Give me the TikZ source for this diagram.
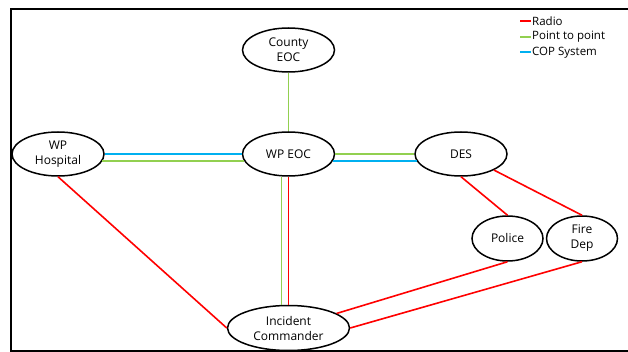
\documentclass[tikz,border=0pt]{standalone}
\usepackage{fontspec}
\setmainfont{Open Sans}
\usetikzlibrary{shapes.geometric}

\definecolor{radiored}{HTML}{FF0000}
\definecolor{ptpgreen}{HTML}{92D050}
\definecolor{copblue}{HTML}{00B0F0}

\begin{document}
\begin{tikzpicture}[x = 1pt, y = -1pt,
		site/.style = {ellipse, draw, line width = 1.5pt, fill = white, inner sep = 0pt,
			align = center, minimum width = 92pt, minimum height = 44pt,
			font = \fontsize{12}{15}\selectfont},
		small site/.style = {site, minimum width = 71pt, minimum height = 45pt},
		link/.style = {line width = 1.6pt}]
			\def\linkgap{7};

			\useasboundingbox (0,0) rectangle (628,352);
			\draw [line width = 2pt] (628,9) -- (11,9) -- (11,351) -- (628,351);

			% sites
			\node [site] (county) at (288.5,50) {County\\EOC};
			\node [site] (wpeoc) at (288.5,154) {WP EOC};
			\node [site] (hosp) at (58,154) {WP\\Hospital};
			\node [site] (des) at (461,154) {DES};
			\node [small site] (police) at (507.5,238.5) {Police};
			\node [small site] (fire) at (582,238.5) {Fire\\Dep};
			\node [site, minimum width = 122pt, minimum height = 45pt] (ic) at (288.5,328) {Incident\\Commander};

			% links
			\begin{scope}[link]
				\draw [ptpgreen] (county) -- (wpeoc);
				\draw [copblue] (hosp.east) -- (wpeoc.west);
				\draw [ptpgreen] (hosp.-9) -- (wpeoc.189);
				\draw [ptpgreen] (wpeoc.east) -- (des.west);
				\draw [copblue] (wpeoc.-9) -- (des.189);
				\draw [ptpgreen] ([xshift = -\linkgap pt]wpeoc.south) -- ([xshift = -\linkgap pt]ic.north);
			\end{scope}

			\begin{scope}[link, radiored]
				\draw (wpeoc) -- (ic);
				\draw (hosp.south) -- (ic.west);
				\draw (des.south) -- (police.north);
				\draw (des.-26) -- (fire.north);
				\draw (police.south) -- (ic);
				\draw (fire.south) -- (ic.east);
			\end{scope}

			% legend
			\foreach \name/\col/\yy in {Radio/radiored/21.5, Point to point/ptpgreen/37, COP System/copblue/52.5} {
				\coordinate (dash\col) at (520,\yy);
				\node [right, inner sep = 1pt, font = \fontsize{11.5}{14}\selectfont] (key\col) at (531,\yy) {\name};
				\draw [line width = 2pt, \col] (dash\col) -- (key\col.west);
			}
		\end{tikzpicture}
\end{document}
